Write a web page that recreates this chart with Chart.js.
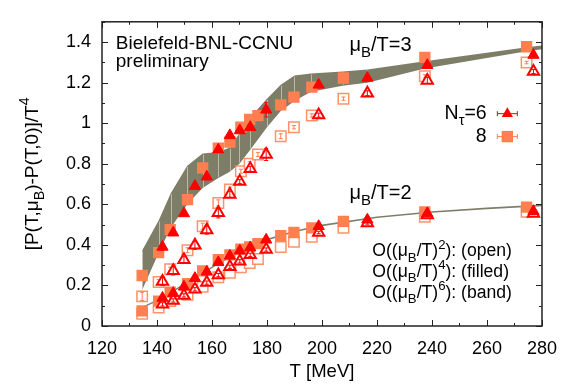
<!DOCTYPE html>
<html>
<head>
<meta charset="utf-8">
<script src="https://cdn.jsdelivr.net/npm/chart.js@4"></script>
<style>html,body{margin:0;padding:0;background:#fff;}</style>
</head>
<body>
<canvas id="chart" width="569" height="385"></canvas>
<script>
// temperatures of the two lattice sets
const tN6 = [142, 145.9, 149.8, 153.8, 158.1, 162.3, 166.5, 170.1, 173.9, 179.7, 198.8, 216.5, 238.3, 276.9];
const tN8 = [134.6, 140.6, 144.8, 151.1, 156.6, 162.3, 166.5, 170.5, 173.7, 176.7, 185, 189.8, 196.3, 207.8, 237.4, 274.4];

// mu_B/T = 3
const p3N6Filled = [0.39, 0.46, 0.555, 0.69, 0.736, 0.869, 0.94, 0.964, 0.98, 1.066, 1.189, 1.223, 1.286, 1.336];
const e3N6Filled = [0.015, 0.01, 0.01, 0.01, 0.01, 0.01, 0.012, 0.01, 0.01, 0.035, 0.01, 0.01, 0.012, 0.01];
const p3N6Open = [0.22, 0.272, 0.327, 0.398, 0.473, 0.558, 0.649, 0.712, 0.775, 0.846, 1.04, 1.148, 1.211, 1.255];
const e3N6Open = [0.02, 0.02, 0.015, 0.02, 0.02, 0.025, 0.015, 0.01, 0.012, 0.03, 0.01, 0.012, 0.015, 0.01];
const p3N8Filled = [0.249, 0.362, 0.475, 0.623, 0.78, 0.877, 0.907, 0.98, 1.019, 1.037, 1.09, 1.129, 1.178, 1.223, 1.325, 1.377];
const p3N8Open = [0.146, 0.217, 0.28, 0.374, 0.492, 0.607, 0.673, 0.763, 0.8, 0.846, 0.936, 0.98, 1.038, 1.121, 1.231, 1.299];
const e3N8Open = [0.02, 0.012, 0.01, 0.012, 0.015, 0.015, 0.012, 0.01, 0.01, 0.01, 0.012, 0.008, 0.008, 0.008, 0.008, 0.006];

// mu_B/T = 2
const p2N6Filled = [0.138, 0.162, 0.193, 0.236, 0.267, 0.314, 0.346, 0.371, 0.387, 0.425, 0.492, 0.524, 0.555, 0.566];
const p2N6Open = [0.107, 0.126, 0.151, 0.181, 0.214, 0.251, 0.292, 0.319, 0.351, 0.377, 0.461, 0.508, 0.547, 0.555];
const e2N6Open = [0.008, 0.008, 0.008, 0.008, 0.008, 0.008, 0.008, 0.008, 0.008, 0.008, 0.006, 0.006, 0.006, 0.006];
const p2N8Filled = [0.075, 0.123, 0.167, 0.209, 0.272, 0.327, 0.351, 0.379, 0.39, 0.406, 0.445, 0.461, 0.484, 0.516, 0.563, 0.586];
const p2N8Open = [0.06, 0.091, 0.123, 0.154, 0.193, 0.24, 0.262, 0.29, 0.31, 0.33, 0.39, 0.415, 0.44, 0.484, 0.539, 0.563];

// O((mu_B/T)^6) bands
const bandT3 = [134.6, 140.6, 145, 151, 156.6, 162.3, 166.5, 170, 174, 180, 185, 190, 196, 207.5, 216.5, 237.4, 274.5, 280];
const band3Hi = [0.372, 0.52, 0.655, 0.79, 0.85, 0.858, 0.88, 0.95, 1.03, 1.12, 1.19, 1.235, 1.245, 1.255, 1.265, 1.305, 1.375, 1.383];
const band3Lo = [0.178, 0.36, 0.484, 0.6, 0.68, 0.73, 0.76, 0.8, 0.87, 0.98, 1.06, 1.11, 1.155, 1.185, 1.2, 1.27, 1.355, 1.365];
const bandT2 = [134.6, 140, 145, 150, 156, 162, 170, 180, 190, 200, 220, 240, 260, 280];
const band2Hi = [0.095, 0.13, 0.17, 0.21, 0.26, 0.31, 0.37, 0.43, 0.47, 0.5, 0.54, 0.566, 0.584, 0.599];
const band2Lo = [0.087, 0.122, 0.162, 0.202, 0.252, 0.302, 0.362, 0.422, 0.462, 0.492, 0.532, 0.558, 0.576, 0.591];

const xTicks = [120, 140, 160, 180, 200, 220, 240, 260, 280];
const yTicks = [0, 0.2, 0.4, 0.6, 0.8, 1, 1.2, 1.4];

const RED = "#ff0000";
const CORAL = "#ff7f50";
const CORAL_LINE = "rgba(255,127,80,0.85)";
const BAND = "#7e7e68";
const FONT = "'Liberation Sans', Arial, sans-serif";
const SUB = 0.75;

const zip = (xs, ys) => xs.map((x, i) => ({ x: x, y: ys[i] }));

function points(data, style, err, errColor, order) {
  return Object.assign({ data: data, showLine: false, order: order, yErr: err, errColor: errColor }, style);
}
const filledTri = { pointStyle: "triangle", pointRadius: 6.5, backgroundColor: RED, borderColor: RED, borderWidth: 1 };
const openTri = { pointStyle: "triangle", pointRadius: 6.5, backgroundColor: "#fff", borderColor: RED, borderWidth: 2 };
const filledSq = { pointStyle: "rect", pointRadius: 8, backgroundColor: CORAL, borderColor: CORAL, borderWidth: 0 };
const openSq = { pointStyle: "rect", pointRadius: 7.4, backgroundColor: "#fff", borderColor: CORAL_LINE, borderWidth: 1.5 };

function band(data, fill) {
  return { data: data, showLine: true, pointRadius: 0, borderWidth: 0, borderColor: BAND,
    backgroundColor: BAND, fill: fill ? "-1" : false, order: 9, tension: 0 };
}

const datasets = [
  band(zip(bandT3, band3Lo), false),
  Object.assign(band(zip(bandT3, band3Hi), true), { hatch: true }),
  band(zip(bandT2, band2Lo), false),
  band(zip(bandT2, band2Hi), true),
  points(zip(tN8, p3N8Open), openSq, e3N8Open, CORAL, 5),
  points(zip(tN8, p2N8Open), openSq, null, CORAL, 5),
  points(zip(tN8, p3N8Filled), filledSq, null, CORAL, 4),
  points(zip(tN8, p2N8Filled), filledSq, null, CORAL, 4),
  points(zip(tN6, p3N6Open), openTri, e3N6Open, RED, 3),
  points(zip(tN6, p2N6Open), openTri, e2N6Open, RED, 3),
  points(zip(tN6, p3N6Filled), filledTri, e3N6Filled, RED, 2),
  points(zip(tN6, p2N6Filled), filledTri, null, RED, 2),
];

// text with sub/superscripts: parts = [[text, 0 normal | 1 sub | 2 sup], ...]
function richWidth(ctx, parts, size) {
  let w = 0;
  parts.forEach(([t, m]) => {
    ctx.font = (m ? size * SUB : size) + "px " + FONT;
    w += ctx.measureText(t).width;
  });
  return w;
}
function drawRich(ctx, parts, x, y, size, align) {
  let cx = x;
  const w = richWidth(ctx, parts, size);
  if (align === "right") cx = x - w;
  if (align === "center") cx = x - w / 2;
  ctx.textBaseline = "alphabetic";
  ctx.textAlign = "left";
  parts.forEach(([t, m]) => {
    ctx.font = (m ? size * SUB : size) + "px " + FONT;
    const dy = m === 1 ? size * 0.3 : m === 2 ? -size * 0.45 : 0;
    ctx.fillText(t, cx, y + dy);
    cx += ctx.measureText(t).width;
  });
}

const errorBars = {
  id: "errorBars",
  afterDatasetDraw(chart, args) {
    const ds = chart.data.datasets[args.index];
    const { ctx, scales: { x, y } } = chart;
    if (ds.hatch) {
      ctx.save();
      ctx.strokeStyle = "rgba(205,205,185,0.75)";
      ctx.lineWidth = 1;
      const lo = chart.data.datasets[args.index - 1].data;
      ctx.beginPath();
      ds.data.forEach((p, i) => {
        const px = Math.round(x.getPixelForValue(p.x)) + 0.5;
        ctx.moveTo(px, y.getPixelForValue(p.y) + 1);
        ctx.lineTo(px, y.getPixelForValue(lo[i].y) - 1);
      });
      ctx.stroke();
      ctx.restore();
    }
    if (!ds.yErr) return;
    ctx.save();
    ctx.strokeStyle = ds.errColor;
    ctx.lineWidth = 1;
    ctx.beginPath();
    ds.data.forEach((p, i) => {
      const px = x.getPixelForValue(p.x);
      const y1 = y.getPixelForValue(p.y - ds.yErr[i]);
      const y2 = y.getPixelForValue(p.y + ds.yErr[i]);
      ctx.moveTo(px, y1); ctx.lineTo(px, y2);
      ctx.moveTo(px - 2, y1); ctx.lineTo(px + 2, y1);
      ctx.moveTo(px - 2, y2); ctx.lineTo(px + 2, y2);
    });
    ctx.stroke();
    ctx.restore();
  }
};

const frame = {
  id: "frame",
  afterDatasetsDraw(chart) {
    const { ctx, chartArea: a, scales: { x, y } } = chart;
    ctx.save();
    ctx.strokeStyle = "#222";
    ctx.lineWidth = 1;
    ctx.beginPath();
    for (let t = x.min; t <= x.max; t += 10) {
      const px = Math.round(x.getPixelForValue(t)) + 0.5;
      const len = (t - x.min) % 20 === 0 ? 6 : 3;
      ctx.moveTo(px, a.bottom); ctx.lineTo(px, a.bottom - len);
      ctx.moveTo(px, a.top); ctx.lineTo(px, a.top + len);
    }
    for (let k = 0; k <= 15; k++) {
      const py = Math.round(y.getPixelForValue(k / 10)) + 0.5;
      const len = k % 2 === 0 ? 6 : 3;
      ctx.moveTo(a.left, py); ctx.lineTo(a.left + len, py);
      ctx.moveTo(a.right, py); ctx.lineTo(a.right - len, py);
    }
    ctx.stroke();
    ctx.lineWidth = 1.5;
    ctx.strokeRect(a.left, a.top, a.right - a.left, a.bottom - a.top);

    ctx.fillStyle = "#000";
    const X = (t) => x.getPixelForValue(t);
    const Y = (v) => y.getPixelForValue(v);
    drawRich(ctx, [["Bielefeld-BNL-CCNU", 0]], X(125), Y(1.365), 19, "left");
    drawRich(ctx, [["preliminary", 0]], X(125), Y(1.278), 19, "left");
    drawRich(ctx, [["\u03bc", 0], ["B", 1], ["/T=3", 0]], X(210), Y(1.357), 20, "left");
    drawRich(ctx, [["\u03bc", 0], ["B", 1], ["/T=2", 0]], X(210), Y(0.626), 20, "left");
    drawRich(ctx, [["N", 0], ["\u03c4", 1], ["=6", 0]], X(259.9), Y(1.019), 19.5, "right");
    drawRich(ctx, [["8", 0]], X(259.9), Y(0.906), 19.5, "right");
    drawRich(ctx, [["O((\u03bc", 0], ["B", 1], ["/T)", 0], ["2", 2], ["): (open)", 0]], X(218.3), Y(0.343), 17.6, "left");
    drawRich(ctx, [["O((\u03bc", 0], ["B", 1], ["/T)", 0], ["4", 2], ["): (filled)", 0]], X(218.3), Y(0.244), 17.6, "left");
    drawRich(ctx, [["O((\u03bc", 0], ["B", 1], ["/T)", 0], ["6", 2], ["): (band)", 0]], X(218.3), Y(0.138), 17.6, "left");

    // legend symbols
    const lx = X(267.4);
    const ew = 10;
    [[Y(1.047), RED], [Y(0.934), CORAL]].forEach(([ly, c], i) => {
      ctx.strokeStyle = c;
      ctx.lineWidth = 1;
      ctx.beginPath();
      ctx.moveTo(lx - ew, ly); ctx.lineTo(lx + ew, ly);
      ctx.moveTo(lx - ew, ly - 2.5); ctx.lineTo(lx - ew, ly + 2.5);
      ctx.moveTo(lx + ew, ly - 2.5); ctx.lineTo(lx + ew, ly + 2.5);
      ctx.stroke();
      ctx.fillStyle = c;
      ctx.beginPath();
      if (i === 0) {
        ctx.moveTo(lx, ly - 6.5);
        ctx.lineTo(lx + 5.6, ly + 3.25);
        ctx.lineTo(lx - 5.6, ly + 3.25);
        ctx.closePath();
      } else {
        ctx.rect(lx - 5.7, ly - 5.7, 11.4, 11.4);
      }
      ctx.fill();
    });

    // y-axis title
    ctx.fillStyle = "#000";
    ctx.translate(31, (a.top + a.bottom) / 2);
    ctx.rotate(-Math.PI / 2);
    drawRich(ctx, [["[P(T,\u03bc", 0], ["B", 1], [")-P(T,0)]/T", 0], ["4", 2]], 0, 7, 19, "center");
    ctx.restore();
  }
};

new Chart(document.getElementById("chart"), {
  type: "line",
  data: { datasets: datasets },
  plugins: [errorBars, frame],
  options: {
    responsive: false,
    animation: false,
    devicePixelRatio: 1,
    layout: { padding: { left: 0, right: 21, top: 8, bottom: 0 } },
    plugins: { legend: { display: false }, tooltip: { enabled: false } },
    scales: {
      x: {
        type: "linear",
        min: 120,
        max: 280,
        grid: { display: false, drawTicks: false },
        border: { display: false },
        afterFit: (s) => { s.height = 59; },
        afterBuildTicks: (s) => { s.ticks = xTicks.map((v) => ({ value: v })); },
        ticks: { padding: 12, color: "#000", font: { family: FONT, size: 18 }, maxRotation: 0, autoSkip: false },
        title: { display: true, text: "T [MeV]", color: "#000", font: { family: FONT, size: 18.5 }, padding: { top: 0, bottom: 2 } },
      },
      y: {
        min: 0,
        max: 1.5,
        grid: { display: false, drawTicks: false },
        border: { display: false },
        afterFit: (s) => { s.width = 102; },
        afterBuildTicks: (s) => { s.ticks = yTicks.map((v) => ({ value: v })); },
        ticks: { padding: 11, color: "#000", font: { family: FONT, size: 18 }, callback: (v) => String(+v.toFixed(1)) },
      },
    },
  },
});
</script>
</body>
</html>
